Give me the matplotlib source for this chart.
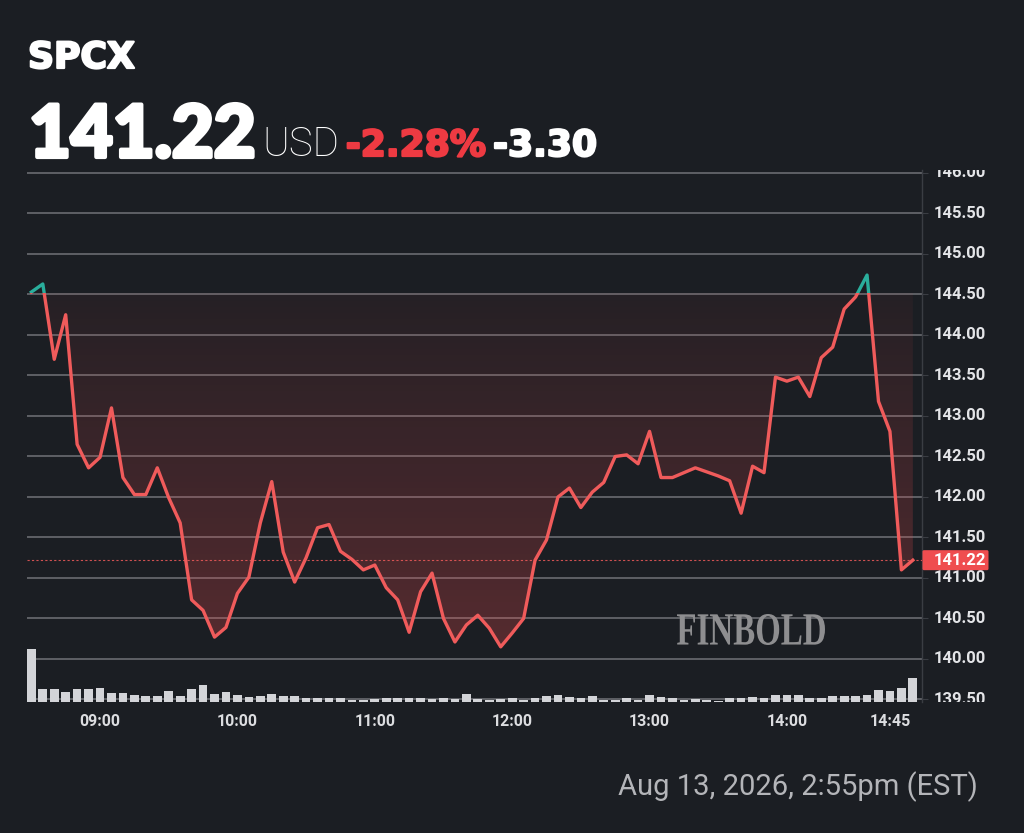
import numpy as np
import matplotlib
matplotlib.use('Agg')
import matplotlib.pyplot as plt
import matplotlib.patheffects as pe
from matplotlib.patches import Rectangle, FancyBboxPatch, PathPatch
from matplotlib.textpath import TextPath
from matplotlib.font_manager import FontProperties
from matplotlib.transforms import Affine2D

# Quote header
ticker = 'SPCX'
last_price = 141.22
prev_close = 144.52
change = -3.30
change_pct = -2.28
stamp = 'Aug 13, 2026, 2:55pm (EST)'

# 5-minute bars, minutes after 08:30
minutes = list(range(0, 390, 5))
prices = [144.53, 144.63, 143.70, 144.25, 142.65, 142.36, 142.49, 143.10, 142.24, 142.03,
          142.03, 142.36, 141.99, 141.68, 140.73, 140.60, 140.27, 140.39, 140.81, 141.01,
          141.68, 142.19, 141.32, 140.95, 141.25, 141.62, 141.66, 141.33, 141.23, 141.10,
          141.16, 140.88, 140.73, 140.33, 140.83, 141.06, 140.50, 140.21, 140.42, 140.54,
          140.38, 140.15, 140.32, 140.50, 141.22, 141.47, 142.00, 142.11, 141.87, 142.06,
          142.18, 142.50, 142.52, 142.41, 142.81, 142.24, 142.24, 142.30, 142.36, 142.31,
          142.26, 142.20, 141.80, 142.38, 142.30, 143.48, 143.43, 143.48, 143.24, 143.72,
          143.85, 144.32, 144.47, 144.74, 143.18, 142.81, 141.10, 141.22]
volume = [52, 13, 13, 10, 13, 13, 14, 9, 9, 7, 6, 6, 11, 6, 13, 17, 8, 10, 7, 5,
          6, 8, 6, 6, 4, 4, 4, 4, 2, 2, 3, 4, 4, 4, 4, 3, 4, 3, 8, 3,
          2, 3, 4, 2, 4, 6, 7, 5, 4, 6, 2, 2, 4, 2, 7, 5, 4, 2, 3, 2,
          1, 4, 4, 5, 4, 7, 7, 7, 4, 4, 6, 6, 6, 7, 12, 11, 14, 23]

tick_minutes = [30, 90, 150, 210, 270, 330, 375]
tick_labels = ['09:00', '10:00', '11:00', '12:00', '13:00', '14:00', '14:45']
price_levels = [139.5, 140.0, 140.5, 141.0, 141.5, 142.0, 142.5, 143.0,
                143.5, 144.0, 144.5, 145.0, 145.5, 146.0]

BG = '#1b1e23'
GRID = '#707277'
RED = '#f05b5b'
TEAL = '#2aae9c'
VOL = '#d3d4d8'

W, H = 1024, 833
fig = plt.figure(figsize=(W / 100, H / 100), dpi=100, facecolor=BG)


def fx(px):
    return px / W


def fy(py):
    return 1 - py / H


def heavy(color, w):
    return [pe.Stroke(linewidth=w, foreground=color), pe.Normal()]


XLIM = (-1.9, 389.0)
YLIM = (139.469, 146.037)

rect = [fx(27), fy(702), fx(922) - fx(27), fy(170) - fy(702)]
ax = fig.add_axes(rect)
ax.set_facecolor(BG)
ax.set_xlim(*XLIM)
ax.set_ylim(*YLIM)
for s in ['top', 'left', 'bottom']:
    ax.spines[s].set_visible(False)
ax.spines['right'].set_color('#3a3d43')
ax.spines['right'].set_linewidth(1.0)
ax.set_xticks([])
ax.yaxis.tick_right()
ax.set_yticks(price_levels)
ax.tick_params(axis='y', length=4, color='#3a3d43', labelright=False)
ax.hlines(price_levels, XLIM[0], XLIM[1], color=GRID, lw=1.1, zorder=1)

# gradient fill between line and previous close
below = np.minimum(prices, prev_close)
poly = ax.fill_between(minutes, below, prev_close, color='none', lw=0)
lo = min(prices)
n = 256
t = np.linspace(0, 1, n)
rgba = np.zeros((n, 1, 4))
rgba[:, 0, 0] = 0.94
rgba[:, 0, 1] = 0.30
rgba[:, 0, 2] = 0.31
rgba[:, 0, 3] = 0.28 * (1 - t) + 0.05 * t
img = ax.imshow(rgba, extent=[minutes[0], minutes[-1], lo, prev_close], origin='lower',
                aspect='auto', interpolation='bilinear', zorder=2)
img.set_clip_path(poly.get_paths()[0], ax.transData)
ax.set_xlim(*XLIM)
ax.set_ylim(*YLIM)

# price line, teal above previous close and red below
line_r, = ax.plot(minutes, prices, color=RED, lw=2.4, zorder=4)
line_r.set_clip_path(Rectangle((XLIM[0], YLIM[0]), XLIM[1] - XLIM[0], prev_close - YLIM[0],
                               transform=ax.transData))
line_g, = ax.plot(minutes, prices, color=TEAL, lw=2.4, zorder=4)
line_g.set_clip_path(Rectangle((XLIM[0], prev_close), XLIM[1] - XLIM[0], 5,
                               transform=ax.transData))

ax.axhline(last_price, color=RED, lw=0.8, ls=(0, (2, 2)), alpha=0.85, zorder=3)

# volume
vax = fig.add_axes(rect, sharex=ax)
vax.patch.set_visible(False)
vax.set_ylim(0, max(volume) * 10.0)
vax.bar(minutes, volume, width=3.8, color=VOL, lw=0)
vax.axis('off')
vax.set_xlim(*XLIM)

# x tick labels
for m, lab in zip(tick_minutes, tick_labels):
    xd = ax.transData.transform((m, 0))[0]
    fig.text(xd / W, fy(721), lab, ha='center', va='center', color='#dcdde0',
             fontsize=11.5, family='Roboto', weight='bold')

# right price scale
lax = fig.add_axes([fx(922), fy(702), fx(1024) - fx(922), fy(170) - fy(702)])
lax.set_xlim(0, 102)
lax.set_ylim(*YLIM)
lax.axis('off')
for v in price_levels:
    lax.text(12, v, f'{v:.2f}', ha='left', va='center', color='#e4e5e8', fontsize=12,
             family='Roboto', weight='bold', clip_on=True)
box_h = 20 / 81
lax.add_patch(FancyBboxPatch((0.5, last_price - box_h / 2), 66, box_h,
                             boxstyle='round,pad=0,rounding_size=1.5', fc='#ef4d4f', ec='none',
                             zorder=5, mutation_aspect=box_h / 20))
lax.text(12, last_price, f'{last_price:.2f}', ha='left', va='center', color='white',
         fontsize=12, family='Roboto', weight='bold', zorder=6)

# header
fig.text(fx(28), fy(68), ticker, ha='left', va='baseline', color='white', fontsize=26,
         family='DejaVu Sans', weight='bold', path_effects=heavy('white', 1.6))
r = fig.canvas.get_renderer()
t1 = fig.text(fx(29), fy(157), f'{last_price:.2f}', ha='left', va='baseline', color='white',
              fontsize=52, family='Lato', weight='black', path_effects=heavy('white', 3))
x1 = t1.get_window_extent(r).x1
t2 = fig.text((x1 + 7) / W, fy(156), 'USD', ha='left', va='baseline', color='white',
              fontsize=29, family='Roboto', weight='light')
x2 = t2.get_window_extent(r).x1
t3 = fig.text((x2 + 6) / W, fy(156), f'{change_pct:.2f}%', ha='left', va='baseline',
              color='#ee3a42', fontsize=26, family='DejaVu Sans', weight='bold',
              path_effects=heavy('#ee3a42', 1.6))
x3 = t3.get_window_extent(r).x1
fig.text((x3 + 7) / W, fy(156), f'{change:.2f}', ha='left', va='baseline', color='white',
         fontsize=26, family='DejaVu Sans', weight='bold', path_effects=heavy('white', 1.6))

# watermark
tp = TextPath((0, 0), 'FINBOLD', size=1, prop=FontProperties(family='Liberation Serif', weight='bold'))
bb = tp.get_extents()
wm = Affine2D().translate(-bb.x0, -bb.y0).scale(148 / bb.width, 31 / bb.height)
wm = wm.translate(677, H - 645).scale(1 / W, 1 / H) + fig.transFigure
fig.add_artist(PathPatch(tp, transform=wm, fc='#8e8e90', ec='none', zorder=10))

fig.text(fx(978), fy(795), stamp, ha='right', va='baseline', color='#b4b5b9', fontsize=21,
         family='Roboto')

fig.savefig('out.png', dpi=100, facecolor=BG)
